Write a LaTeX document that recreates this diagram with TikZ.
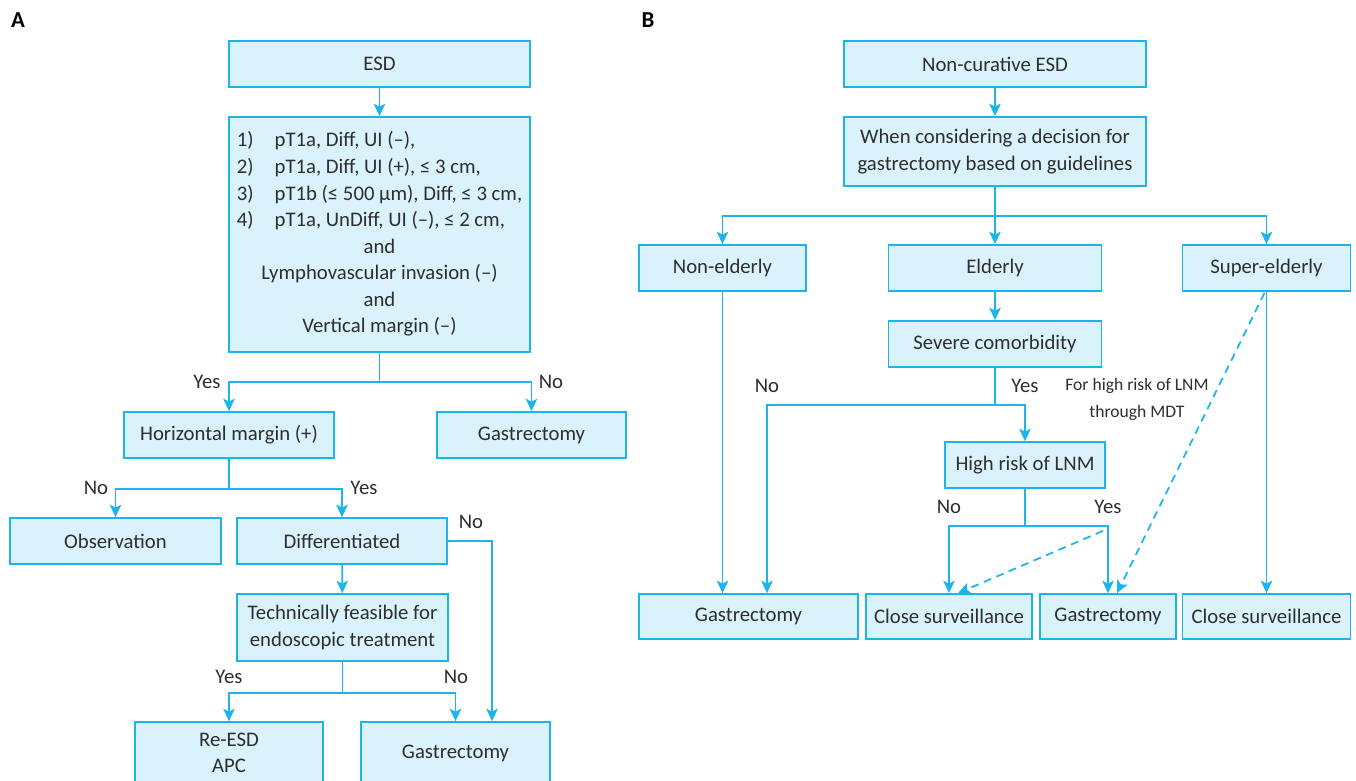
\documentclass[tikz,border=0pt]{standalone}
\usepackage{fontspec}
\setmainfont{Carlito}
\usepackage{tikz}
\usetikzlibrary{arrows.meta, positioning, calc}
\definecolor{flowcyan}{HTML}{1BB5EB}
\definecolor{flowfill}{HTML}{DAF2FB}
\definecolor{flowtext}{HTML}{2E2E2E}

\begin{document}
\begin{tikzpicture}[
      x=0.02cm, y=-0.02cm,
      every node/.style={font=\fontsize{11.8}{15}\selectfont, text=flowtext},
      box/.style={draw=flowcyan, fill=flowfill, line width=1pt,
                  align=center, inner sep=2pt},
      bw/.style={minimum width=#1*0.02cm},
      bh/.style={minimum height=#1*0.02cm},
      lbl/.style={inner sep=1pt},
      note/.style={font=\fontsize{10}{15.3}\selectfont, align=center, inner sep=1pt},
      panel/.style={font=\fontsize{13}{15}\selectfont\bfseries, text=black},
      link/.style={-{Stealth[length=7pt,width=6.5pt,inset=1.6pt]},
                   line width=1pt, flowcyan},
      dlink/.style={link, dash pattern=on 4.5pt off 3.2pt}
    ]
    \useasboundingbox (0,0) rectangle (1356,781);
    \clip (0,0) rectangle (1356,781);

    % panel A
    \node[panel] (pa) at (18,20) {A};
    \node[box, bw=301, bh=46] (esd) at (379.5,64) {ESD};
    \node[box, bw=301, bh=235] (crit) at (379.5,234.5)
      {\fontsize{11.8}{15.1}\selectfont
       \begin{tabular}{@{}l@{\hspace{12pt}}l@{}}
         1) & pT1a, Diff, UI (–),\\
         2) & pT1a, Diff, UI (+), ≤ 3 cm,\\
         3) & pT1b (≤ 500 μm), Diff, ≤ 3 cm,\\
         4) & pT1a, UnDiff, UI (–), ≤ 2 cm,\\
         \multicolumn{2}{c}{and\hspace{0.45cm}}\\
         \multicolumn{2}{c}{Lymphovascular invasion (–)\hspace{0.45cm}}\\
         \multicolumn{2}{c}{and\hspace{0.45cm}}\\
         \multicolumn{2}{c}{Vertical margin (–)\hspace{0.45cm}}
       \end{tabular}};
    \node[box, bw=210, bh=46] (hm) at (229,435) {Horizontal margin (+)};
    \node[box, bw=189, bh=46] (gas1) at (531.5,435) {Gastrectomy};
    \node[box, bw=211, bh=46] (obs) at (115.5,541) {Observation};
    \node[box, bw=210, bh=46] (diff) at (342,541) {Differentiated};
    \node[box, bw=211, bh=67] (tech) at (342.5,627.5)
      {Technically feasible for\\endoscopic treatment};
    \node[box, bw=188, bh=62] (reesd) at (229,753) {Re-ESD\\APC};
    \node[box, bw=189, bh=62] (gas2) at (455.5,753) {Gastrectomy};

    \draw[link] (esd) -- (crit);
    \draw[link] (crit.south) -- ++(0,29) -| (hm.north);
    \draw[link] (crit.south) -- ++(0,29) -| (gas1.north);
    \draw[link] (hm.south) -- ++(0,30) -| (obs.north);
    \draw[link] (hm.south) -- ++(0,30) -| (diff.north);
    \draw[link] (diff) -- (tech);
    \draw[link] (diff.east) -| ($(gas2.north)+(36.5,0)$);
    \draw[link] (tech.south) -- ++(0,31) -| (reesd.north);
    \draw[link] (tech.south) -- ++(0,31) -| (gas2.north);

    \node[lbl] (ya1) at (207,382) {Yes};
    \node[lbl] (na1) at (551,382) {No};
    \node[lbl] (na2) at (96,488) {No};
    \node[lbl] (ya2) at (364,488) {Yes};
    \node[lbl] (na3) at (471,522) {No};
    \node[lbl] (ya3) at (229,677) {Yes};
    \node[lbl] (na4) at (456,677) {No};

    % panel B
    \node[panel] (pb) at (648,20) {B};
    \node[box, bw=302, bh=46] (nc) at (995,64) {Non-curative ESD};
    \node[box, bw=302, bh=69] (wc) at (995,151.5)
      {When considering a decision for\\gastrectomy based on guidelines};
    \node[box, bw=167, bh=46] (ne) at (722.5,268) {Non-elderly};
    \node[box, bw=213, bh=46] (el) at (995,268) {Elderly};
    \node[box, bw=168, bh=46] (se) at (1266.5,268) {Super-elderly};
    \node[box, bw=213, bh=46] (sc) at (995,344) {Severe comorbidity};
    \node[box, bw=160, bh=46] (hr) at (1025,465) {High risk of LNM};
    \node[box, bw=219, bh=45] (g3) at (748.5,616.5) {Gastrectomy};
    \node[box, bw=166, bh=45] (cs1) at (949,616.5) {Close surveillance};
    \node[box, bw=136, bh=45] (g4) at (1108,616.5) {Gastrectomy};
    \node[box, bw=168, bh=45] (cs2) at (1266.5,616.5) {Close surveillance};

    \draw[link] (nc) -- (wc);
    \draw[link] (wc.south) -- ++(0,29) -| (ne.north);
    \draw[link] (wc.south) -- (el.north);
    \draw[link] (wc.south) -- ++(0,29) -| (se.north);
    \draw[link] (el) -- (sc);
    \draw[link] (sc.south) -- ++(0,37) -| ($(g3.north)+(18.5,0)$);
    \draw[link] (sc.south) -- ++(0,37) -| (hr.north);
    \draw[link] (ne.south) -- (ne.south |- g3.north);
    \draw[link] (hr.south) -- ++(0,37) -| (cs1.north);
    \draw[link] (hr.south) -- ++(0,37) -| (g4.north);
    \draw[link] (se) -- (cs2);
    \draw[dlink] ($(se.south)+(-2,1)$) -- ($(g4.north)+(9,0)$);
    \draw[dlink] ($(hr.south)+(78,42)$) -- ($(cs1.north)+(9,0)$);

    \node[lbl] (nb1) at (767,386) {No};
    \node[lbl] (yb1) at (1025,386) {Yes};
    \node[lbl] (nb2) at (949,507) {No};
    \node[lbl] (yb2) at (1108,507) {Yes};
    \node[note] (mdt) at (1137,399.5) {For high risk of LNM\\through MDT};
  \end{tikzpicture}
\end{document}
